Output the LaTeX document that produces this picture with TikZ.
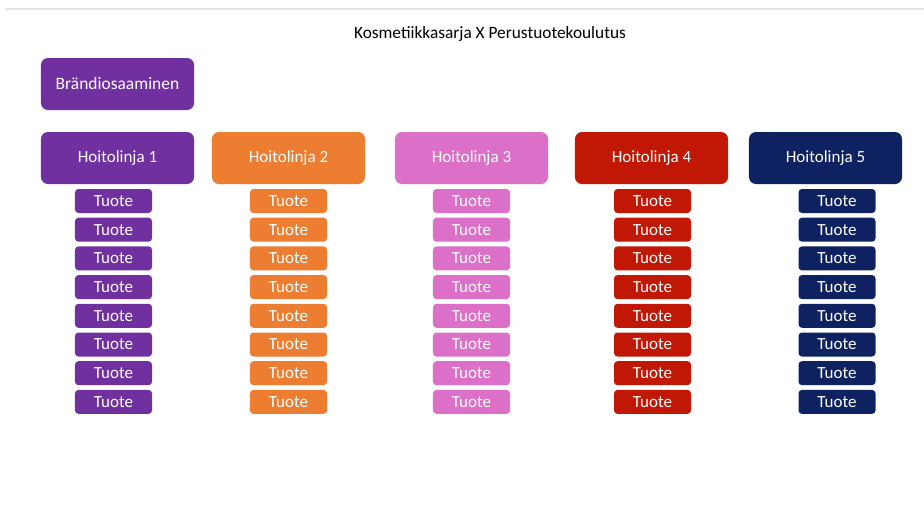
\documentclass[tikz,border=0pt]{standalone}
\usepackage{fontspec}
\setmainfont{Carlito}
\usepackage{xcolor}
\definecolor{linePurple}{RGB}{112,48,160}
\definecolor{lineOrange}{RGB}{237,125,49}
\definecolor{linePink}{RGB}{220,112,200}
\definecolor{lineRed}{RGB}{192,24,4}
\definecolor{lineNavy}{RGB}{14,34,98}
\definecolor{ruleGray}{RGB}{226,226,226}

\begin{document}
\begin{tikzpicture}[x=0.025cm,y=-0.025cm,
  headbox/.style={rounded corners=5pt,minimum width=3.825cm,minimum height=1.3cm,inner sep=0pt,text=white,font=\fontsize{12.1}{14}\selectfont},
  tuotebox/.style={rounded corners=2.5pt,minimum width=1.925cm,minimum height=0.6cm,inner sep=0pt,text=white,font=\fontsize{12.1}{14}\selectfont}]
\useasboundingbox (0,0) rectangle (924,522);
\draw[ruleGray,line width=1.6pt] (5,9) -- (924,9);
\node (title) at (490,34) {\fontsize{12.3}{14}\selectfont Kosmetiikkasarja X Perustuotekoulutus};
\node[headbox,fill=linePurple] (brand) at (117.5,84) {\fontsize{12.4}{14}\selectfont Brändiosaaminen};
% hoitolinjat ja tuotteet
\foreach \n/\hx/\tx/\col in {1/117.5/113.5/linePurple,2/288.5/288.5/lineOrange,3/471.5/471.5/linePink,4/651.5/652.5/lineRed,5/825.5/837/lineNavy}{
  \node[headbox,fill=\col] (h\n) at (\hx,158) {Hoitolinja \n};
  \foreach \r in {1,...,8}{
    \node[tuotebox,fill=\col] (t\n-\r) at (\tx,{201+28.7*(\r-1)}) {Tuote};
  }
}
\end{tikzpicture}
\end{document}
